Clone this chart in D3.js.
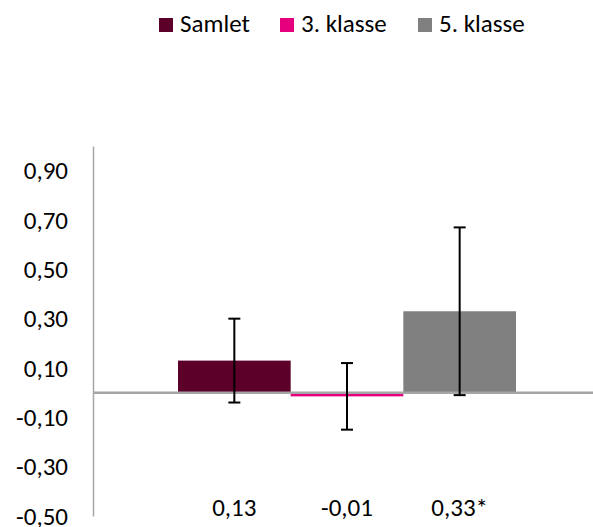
<!DOCTYPE html>
<html>
<head>
<meta charset="utf-8">
<script src="https://cdn.jsdelivr.net/npm/d3@7"></script>
<style>
  html, body { margin: 0; padding: 0; background: #fff; }
  svg { display: block; font-family: Carlito, Calibri, Lato, sans-serif; }
</style>
</head>
<body>
<svg id="chart" width="593" height="527"></svg>
<script>
const series = ["Samlet", "3. klasse", "5. klasse"];
const values = [0.13, -0.015, 0.33];
const ciLow = [-0.04, -0.15, -0.01];
const ciHigh = [0.30, 0.12, 0.67];
const valueLabels = ["0,13", "-0,01", "0,33*"];
const colors = ["#5c0029", "#e6007e", "#808080"];
const yTicks = [-0.5, -0.3, -0.1, 0.1, 0.3, 0.5, 0.7, 0.9];

const svg = d3.select("#chart");
const fontSize = 25;

const y = d3.scaleLinear().domain([-0.5, 1.0]).range([516, 146]);
const plotLeft = 93, plotRight = 593;
const x = d3.scaleBand().domain(series).range([178, 516]).padding(0);

// Y axis
const yAxis = d3.axisLeft(y)
  .tickValues(yTicks)
  .tickSize(0)
  .tickSizeOuter(0)
  .tickPadding(25)
  .tickFormat(d => d3.format(".2f")(d).replace(".", ",").replace("−", "-"));
const gy = svg.append("g").attr("transform", `translate(${plotLeft},0)`).call(yAxis);
gy.select(".domain").attr("stroke", "#a6a6a6").attr("stroke-width", 1.5);
gy.selectAll("text").attr("font-size", fontSize).attr("fill", "#000")
  .attr("font-family", "Carlito, Calibri, Lato, sans-serif");

// Bars
svg.append("g").selectAll("rect").data(series).join("rect")
  .attr("x", d => x(d))
  .attr("width", x.bandwidth())
  .attr("y", (d, i) => y(Math.max(0, values[i])))
  .attr("height", (d, i) => Math.abs(y(values[i]) - y(0)))
  .attr("fill", (d, i) => colors[i]);

// Zero line
svg.append("line")
  .attr("x1", plotLeft).attr("x2", plotRight)
  .attr("y1", y(0)).attr("y2", y(0))
  .attr("stroke", "#a6a6a6").attr("stroke-width", 2.5);

// Error bars
const capW = 6;
const eb = svg.append("g").attr("stroke", "#000").attr("stroke-width", 2);
series.forEach((s, i) => {
  const cx = x(s) + x.bandwidth() / 2;
  eb.append("line").attr("x1", cx).attr("x2", cx).attr("y1", y(ciHigh[i])).attr("y2", y(ciLow[i]));
  eb.append("line").attr("x1", cx - capW).attr("x2", cx + capW).attr("y1", y(ciHigh[i])).attr("y2", y(ciHigh[i]));
  eb.append("line").attr("x1", cx - capW).attr("x2", cx + capW).attr("y1", y(ciLow[i])).attr("y2", y(ciLow[i]));
});

// Value labels at bottom
svg.append("g").selectAll("text").data(series).join("text")
  .attr("x", d => x(d) + x.bandwidth() / 2)
  .attr("y", 516)
  .attr("text-anchor", "middle")
  .attr("font-size", fontSize)
  .attr("fill", "#000")
  .text((d, i) => valueLabels[i]);

// Legend
const legendX = [159, 280, 418];
const lg = svg.append("g");
series.forEach((s, i) => {
  lg.append("rect").attr("x", legendX[i]).attr("y", 18).attr("width", 14).attr("height", 14).attr("fill", colors[i]);
  lg.append("text").attr("x", legendX[i] + 21).attr("y", 32)
    .attr("font-size", fontSize).attr("fill", "#000").text(s);
});
</script>
</body>
</html>
